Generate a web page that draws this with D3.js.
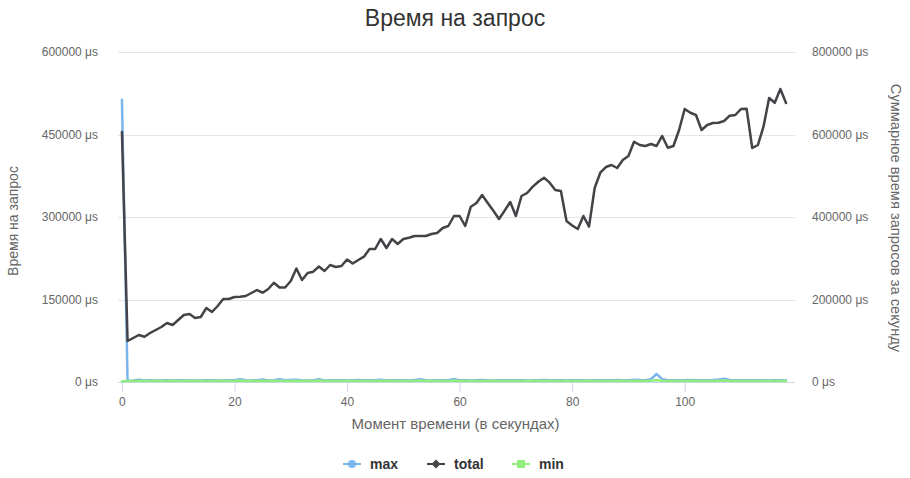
<!DOCTYPE html>
<html>
<head>
<meta charset="utf-8">
<script src="https://cdn.jsdelivr.net/npm/d3@7"></script>
<style>
  body { margin: 0; background: #fff; }
  svg { font-family: "Liberation Sans", Arial, Helvetica, sans-serif; }
</style>
</head>
<body>
<svg id="chart" width="910" height="478"></svg>
<script>
// Request time per second: max / min on the left axis, total on the right axis.

var seriesNames = ['max', 'total', 'min'];
var seriesColors = ['#7cb5ec', '#434348', '#90ed7d'];

var leftTicks = [0, 150000, 300000, 450000, 600000];
var rightTicks = [0, 200000, 400000, 600000, 800000];
var xTicks = [0, 20, 40, 60, 80, 100];

var maxValues = [
  513000, 2400, 2900, 4100, 2700, 3000, 2600, 2900, 3200, 2700,
  3000, 2800, 3200, 2600, 2900, 3400, 3100, 2700, 2800, 3000,
  3200, 5200, 3100, 2800, 3400, 4600, 2900, 3100, 4900, 3000,
  3500, 4000, 3200, 2900, 3100, 5000, 2800, 3000, 3300, 3100,
  2900, 3200, 3500, 3000, 3400, 3100, 4200, 2800, 3000, 3200,
  3400, 2900, 3500, 5100, 3100, 2800, 3000, 3300, 3100, 5300,
  3000, 3200, 2900, 3100, 3500, 3000, 2800, 3100, 3300, 3000,
  3200, 3100, 2900, 3000, 3400, 3600, 3100, 3000, 3200, 2800,
  3000, 3300, 3100, 2900, 3000, 3200, 3100, 3400, 3600, 3000,
  3200, 4200, 3600, 3300, 5000, 14500, 5200, 3400, 3100, 3000,
  3200, 3800, 3100, 3000, 3300, 3600, 4500, 5800, 3600, 3100,
  3000, 3200, 3400, 3000, 3100, 2900, 3200, 3000, 2800
];

var totalValues = [
  606000, 99400, 106700, 113900, 109800, 118800, 126100, 133300, 143000, 138200,
  150300, 162400, 164800, 155200, 157600, 179400, 169700, 184200, 201200, 201200,
  206100, 206800, 208500, 215800, 223000, 216500, 225500, 240700, 229100, 229100,
  244800, 275200, 247300, 264200, 267400, 280000, 269100, 283600, 278800, 281200,
  297000, 287300, 295800, 303800, 322400, 322400, 346700, 324800, 346700, 334500,
  346700, 349800, 353900, 353900, 353900, 358800, 361200, 373300, 378200, 402400,
  402400, 378200, 425000, 433900, 453300, 433900, 415300, 395200, 415300, 436400,
  402400, 450900, 458200, 473500, 485600, 495300, 483200, 465500, 463000, 390300,
  379400, 370900, 402400, 376500, 470300, 507400, 521200, 526100, 518800, 538200,
  547900, 582500, 574500, 572100, 577000, 572100, 596400, 568000, 572100, 610900,
  661800, 652800, 647300, 610900, 623000, 627900, 628600, 632700, 645600, 647300,
  661800, 662600, 567300, 574500, 618900, 688500, 677100, 710300, 676400
];

var minValues = [
  1500, 1800, 2000, 1700, 1900, 1600, 1800, 2000, 1700, 1800,
  1900, 1700, 2100, 1800, 1600, 1900, 1800, 1700, 2000, 1800,
  1900, 2600, 1800, 1700, 1900, 2300, 1800, 1900, 2500, 1800,
  2000, 2200, 1900, 1700, 1800, 2600, 1700, 1800, 1900, 1800,
  1700, 1900, 2000, 1800, 1900, 1800, 2300, 1700, 1800, 1900,
  2000, 1700, 2000, 2600, 1800, 1700, 1800, 1900, 1800, 2700,
  1800, 1900, 1700, 1800, 2000, 1800, 1700, 1800, 1900, 1800,
  1900, 1800, 1700, 1800, 2000, 2100, 1800, 1800, 1900, 1700,
  1800, 1900, 1800, 1700, 1800, 1900, 1800, 2000, 2100, 1800,
  1900, 2300, 2000, 1900, 2400, 3200, 2400, 1900, 1800, 1800,
  1900, 2100, 1800, 1800, 1900, 2000, 2300, 2800, 2000, 1800,
  1800, 1900, 2000, 1800, 1800, 1700, 1900, 1800, 1700
];

var svg = d3.select('#chart');
var plot = {left: 118, right: 795, top: 52, bottom: 382};

var x = d3.scaleLinear().domain([-0.7, 119.6]).range([plot.left, plot.right]);
var yLeft = d3.scaleLinear().domain([0, 600000]).range([plot.bottom, plot.top]);
var yRight = d3.scaleLinear().domain([0, 800000]).range([plot.bottom, plot.top]);

// title
svg.append('text')
  .attr('x', 455).attr('y', 26)
  .attr('text-anchor', 'middle')
  .attr('font-size', 23)
  .attr('fill', '#333333')
  .text('Время на запрос');

// grid lines
svg.append('g').selectAll('line')
  .data(leftTicks)
  .enter()
  .append('line')
    .attr('x1', plot.left).attr('x2', plot.right)
    .attr('y1', function(d) { return Math.round(yLeft(d)) + 0.5; })
    .attr('y2', function(d) { return Math.round(yLeft(d)) + 0.5; })
    .attr('stroke', '#e6e6e6');

// left axis
var leftAxis = svg.append('g')
  .attr('transform', 'translate(' + (plot.left - 20) + ',0)')
  .call(d3.axisLeft(yLeft).tickValues(leftTicks).tickSize(0).tickPadding(0)
    .tickFormat(function(d) { return d + ' μs'; }));
leftAxis.select('.domain').remove();

// right axis
var rightAxis = svg.append('g')
  .attr('transform', 'translate(' + (plot.right + 17) + ',0)')
  .call(d3.axisRight(yRight).tickValues(rightTicks).tickSize(0).tickPadding(0)
    .tickFormat(function(d) { return d + ' μs'; }));
rightAxis.select('.domain').remove();

svg.selectAll('.tick text')
  .attr('font-size', 12)
  .attr('font-family', '"Liberation Sans", Arial, sans-serif')
  .attr('fill', '#666666');

// x axis
var xAxis = svg.append('g')
  .attr('transform', 'translate(0,' + plot.bottom + ')')
  .call(d3.axisBottom(x).tickValues(xTicks).tickSize(10).tickPadding(5));
xAxis.select('.domain')
  .attr('d', 'M' + plot.left + ',0.5H' + plot.right)
  .attr('stroke', '#ccd6eb');
xAxis.selectAll('.tick line').attr('stroke', '#ccd6eb');
xAxis.selectAll('.tick text')
  .attr('font-size', 12)
  .attr('font-family', '"Liberation Sans", Arial, sans-serif')
  .attr('fill', '#666666');

// axis titles
svg.append('text')
  .attr('transform', 'translate(18,221) rotate(-90)')
  .attr('text-anchor', 'middle')
  .attr('font-size', 14)
  .attr('fill', '#666666')
  .text('Время на запрос');

svg.append('text')
  .attr('transform', 'translate(891,218) rotate(90)')
  .attr('text-anchor', 'middle')
  .attr('font-size', 14.7)
  .attr('fill', '#666666')
  .text('Суммарное время запросов за секунду');

svg.append('text')
  .attr('x', (plot.left + plot.right) / 2 - 1).attr('y', 429)
  .attr('text-anchor', 'middle')
  .attr('font-size', 15)
  .attr('fill', '#666666')
  .text('Момент времени (в секундах)');

// lines
var seriesData = [
  {values: maxValues, y: yLeft},
  {values: totalValues, y: yRight},
  {values: minValues, y: yLeft}
];

var lines = svg.append('g');
seriesData.forEach(function(s, k) {
  var line = d3.line()
    .x(function(d, i) { return x(i); })
    .y(function(d) { return s.y(d); });
  lines.append('path')
    .datum(s.values)
    .attr('d', line)
    .attr('fill', 'none')
    .attr('stroke', seriesColors[k])
    .attr('stroke-width', 2.5)
    .attr('stroke-linejoin', 'round')
    .attr('stroke-linecap', 'round');
});

// legend
var legendX = [343, 427, 512];
var legend = svg.append('g');
seriesNames.forEach(function(name, k) {
  var g = legend.append('g').attr('transform', 'translate(' + legendX[k] + ',464)');
  g.append('line')
    .attr('x1', 0).attr('x2', 18).attr('y1', 0).attr('y2', 0)
    .attr('stroke', seriesColors[k]).attr('stroke-width', 2);
  if (k === 0) {
    g.append('circle').attr('cx', 9).attr('cy', 0).attr('r', 4).attr('fill', seriesColors[k]);
  } else if (k === 1) {
    g.append('path').attr('d', 'M9,-4.5L13.5,0L9,4.5L4.5,0Z').attr('fill', seriesColors[k]);
  } else {
    g.append('rect').attr('x', 5).attr('y', -4).attr('width', 8).attr('height', 8).attr('fill', seriesColors[k]);
  }
  g.append('text')
    .attr('x', 27).attr('y', 5)
    .attr('font-size', 14)
    .attr('font-weight', 'bold')
    .attr('fill', '#333333')
    .text(name);
});
</script>
</body>
</html>
